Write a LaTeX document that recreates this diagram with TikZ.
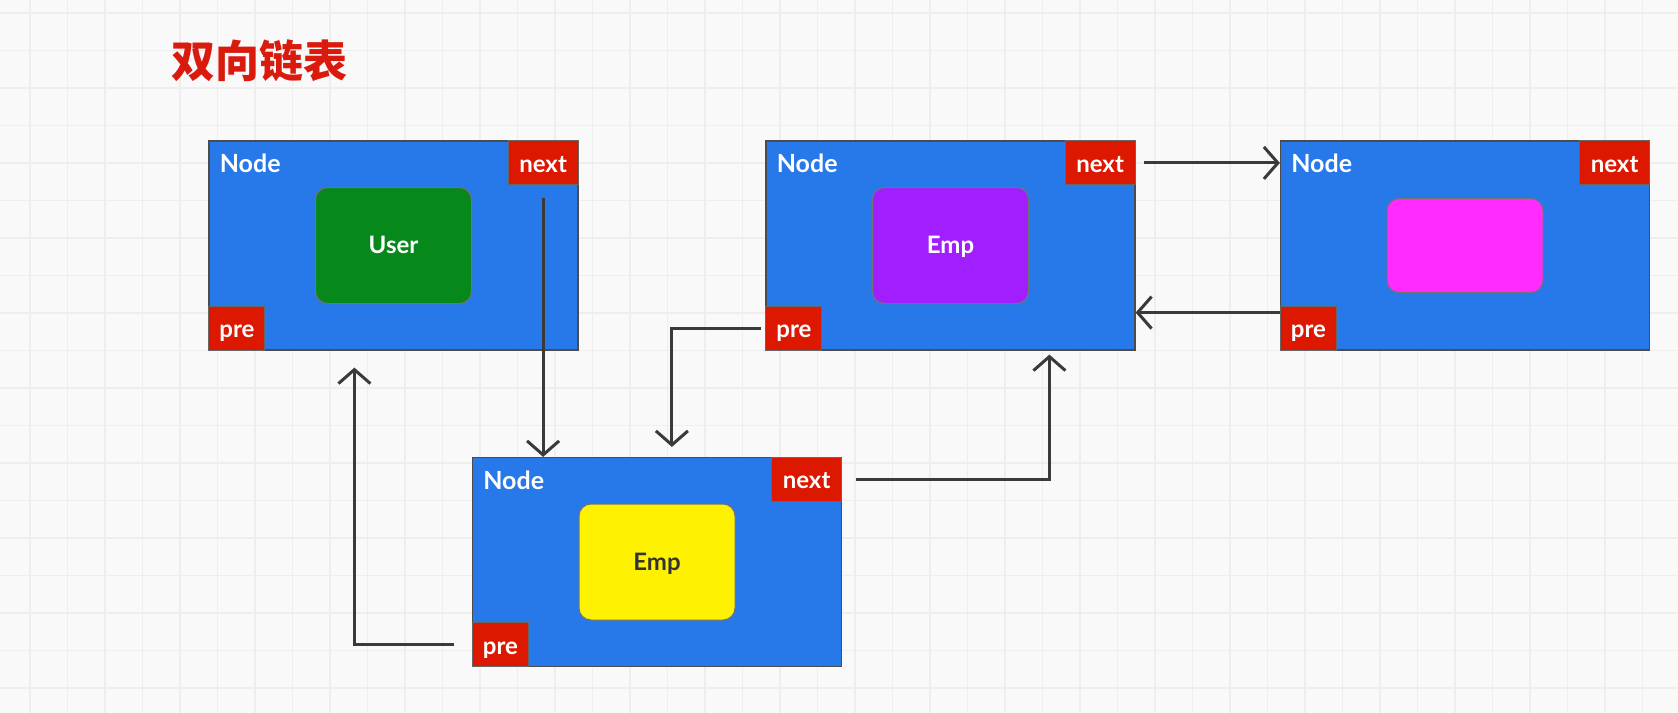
\documentclass[tikz,border=0pt]{standalone}
\usepackage{fontspec}
\setmainfont{Lato}
\newfontfamily\cjk{Noto Sans CJK SC}
\usetikzlibrary{arrows.meta}
\definecolor{pagebg}{HTML}{F9F9F9}
\definecolor{gridgray}{HTML}{EEEEEE}
\definecolor{nodeblue}{HTML}{2779E9}
\definecolor{tagred}{HTML}{DD1800}
\definecolor{titlered}{HTML}{DA1A0C}
\definecolor{usergreen}{HTML}{06891A}
\definecolor{emppurple}{HTML}{A11EFF}
\definecolor{empyellow}{HTML}{FFF200}
\definecolor{pinkish}{HTML}{FF2BFF}
\definecolor{arrowgray}{HTML}{3A3A3A}
\tikzset{
  listnode/.style={draw=black!70, line width=0.6pt, fill=nodeblue, minimum width=184.5pt, minimum height=104.5pt, inner sep=0pt},
  databox/.style={draw=black!55, line width=0.5pt, rounded corners=6pt, minimum width=78pt, minimum height=58pt, inner sep=0pt, text height=9pt, text depth=1pt, font=\bfseries\fontsize{12}{14}\selectfont},
  tag/.style={draw=black!60, line width=0.5pt, fill=tagred, text=white, inner sep=0pt, minimum height=22pt, text height=10.5pt, text depth=1pt, font=\bfseries\fontsize{12}{14}\selectfont},
  nodetitle/.style={anchor=west, text=white, inner sep=0pt, font=\bfseries\fontsize{12.5}{14}\selectfont},
  link/.style={draw=arrowgray, line width=1.5pt, -{Straight Barb[length=7pt,width=16pt]}},
  gridline/.style={draw=gridgray, line width=0.7pt}
}
\begin{document}
\begin{tikzpicture}[x=0.5pt,y=-0.5pt]
\useasboundingbox (0,0) rectangle (1678,713);
\fill[pagebg] (0,0) rectangle (1678,713);
\foreach \gx in {30,67.5,...,1678}
  \draw[gridline] (\gx,0) -- (\gx,713);
\foreach \gy in {13,50.5,...,713}
  \draw[gridline] (0,\gy) -- (1678,\gy);

\node[anchor=west, font=\cjk\bfseries\fontsize{22}{26}\selectfont, text=titlered, inner sep=0pt] (title) at (171,61) {双向链表};

% the four list nodes
\node[listnode] (b1) at (393.5,245.5) {};
\node[listnode] (b2) at (657,562) {};
\node[listnode] (b3) at (950.5,245.5) {};
\node[listnode] (b4) at (1465,245.5) {};

\node[databox, fill=usergreen, text=white] (d1) at (b1) {User};
\node[databox, fill=empyellow, text=black!80] (d2) at (b2) {Emp};
\node[databox, fill=emppurple, text=white] (d3) at (b3) {Emp};
\node[databox, fill=pinkish, minimum height=47pt] (d4) at (b4) {};

\foreach \b in {b1,b2,b3,b4}{
  \node[tag, anchor=north east, minimum width=35pt] (\b-next) at (\b.north east) {next};
  \node[tag, anchor=south west, minimum width=28pt] (\b-pre) at (\b.south west) {pre};
  \node[nodetitle] (\b-title) at ([xshift=5.5pt,yshift=-11.5pt]\b.north west) {Node};
}

% next / pre links
\draw[link] ([yshift=-6.5pt]b1-next.south) -- (b1-next.south |- b2.north);
\draw[link] ([xshift=-9pt]b2-pre.west) -| ([xshift=73pt,yshift=-8.5pt]b1.south west);
\draw[link] ([xshift=7pt]b2-next.east) -| ([xshift=142pt,yshift=-2pt]b3.south west);
\draw[link] ([xshift=-2pt]b3-pre.west) -| ([xshift=100pt,yshift=5pt]b2.north west);
\draw[link] ([xshift=4pt]b3-next.east) -- (b4.west |- b3-next.east);
\draw[link] ([yshift=19pt]b4.south west) -- ([yshift=19pt]b3.south east);
\end{tikzpicture}
\end{document}
